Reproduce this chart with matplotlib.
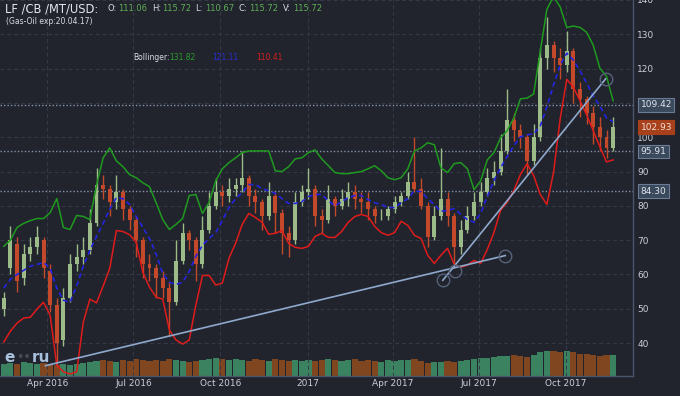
import numpy as np
import pandas as pd
import matplotlib
matplotlib.use("Agg")
import matplotlib.pyplot as plt
import matplotlib.dates as mdates
import matplotlib.transforms as mtransforms

# weekly candles, Gas-Oil LF/CB/MT/USD
weeks = pd.date_range("2016-02-15", periods=93, freq="7D")

opens = [50, 62, 69, 59, 66, 68, 70, 61, 51, 41, 53, 63, 65, 67, 75, 86, 85, 81, 84, 79,
         76, 70, 63, 62, 59, 56, 52, 64, 72, 70, 63, 73, 80, 84, 83, 85, 86, 88, 83, 81,
         77, 83, 78, 72, 70, 81, 84, 85, 77, 76, 82, 80, 82, 84, 82, 81, 79, 77, 77, 79,
         81, 83, 87, 85, 80, 71, 77, 82, 77, 68, 73, 77, 81, 84, 88, 90, 96, 105, 102, 100,
         93, 100, 123, 127, 123, 121, 125, 114, 111, 107, 103, 100, 97]
highs = [55, 74, 71, 69, 71, 74, 71, 63, 53, 56, 66, 69, 71, 79, 91, 89, 86, 89, 85, 80,
         77, 71, 66, 63, 61, 58, 70, 75, 73, 71, 77, 84, 88, 86, 88, 88, 96, 89, 85, 82,
         87, 84, 79, 74, 84, 86, 91, 86, 79, 86, 83, 85, 87, 86, 84, 84, 80, 79, 80, 83,
         84, 90, 100, 88, 81, 80, 97, 84, 78, 76, 80, 84, 87, 91, 93, 101, 114, 107, 104, 101,
         104, 126, 135, 128, 126, 131, 126, 116, 112, 109, 106, 102, 106]
lows = [48, 60, 55, 57, 64, 66, 59, 49, 33, 39, 52, 61, 63, 66, 74, 82, 77, 79, 76, 73,
        65, 59, 58, 53, 53, 42, 51, 63, 67, 58, 62, 72, 79, 80, 81, 83, 84, 80, 78, 73,
        76, 72, 66, 65, 69, 80, 82, 74, 72, 75, 77, 79, 80, 79, 78, 76, 75, 76, 76, 78,
        80, 82, 84, 79, 68, 70, 76, 74, 62, 66, 72, 76, 80, 83, 86, 89, 95, 99, 97, 89,
        92, 99, 120, 119, 117, 119, 110, 106, 104, 98, 96, 94, 96]
closes = [53, 70, 58, 66, 68, 71, 62, 51, 40, 53, 63, 65, 67, 75, 86, 85, 81, 84, 79, 76,
          70, 63, 62, 59, 56, 52, 64, 72, 70, 63, 73, 80, 84, 83, 85, 86, 88, 83, 81, 77,
          83, 78, 72, 70, 81, 84, 85, 77, 76, 82, 80, 82, 84, 82, 81, 79, 77, 77, 79, 81,
          83, 87, 85, 80, 71, 77, 82, 77, 68, 73, 77, 81, 84, 88, 90, 96, 105, 102, 100, 93,
          100, 123, 127, 123, 121, 125, 114, 111, 107, 103, 100, 97, 102.93]
volume = [12, 13, 12, 14, 13, 12, 13, 12, 11, 12, 11, 12, 13, 14, 15, 16, 15, 14, 16, 15,
          17, 16, 15, 16, 15, 17, 16, 15, 14, 15, 16, 17, 18, 17, 16, 17, 16, 15, 17, 16,
          15, 17, 16, 15, 16, 15, 16, 15, 16, 17, 16, 15, 16, 17, 15, 16, 15, 14, 16, 15,
          16, 16, 17, 15, 13, 14, 14, 15, 14, 15, 16, 17, 18, 18, 19, 20, 20, 21, 20, 19,
          21, 24, 25, 25, 24, 25, 24, 22, 22, 21, 20, 21, 21]

bb_upper = [68.2, 70, 73.7, 74.9, 75.7, 76.3, 76.3, 78, 82.1, 73.7, 73.1, 77.2, 76.9, 76, 86,
            94, 96.9, 93.1, 91.4, 89.1, 88.2, 86.7, 85.6, 80.9, 76, 73.1, 74.6, 76.3, 83, 83.3,
            77.8, 81, 87.3, 90.8, 92.6, 94, 95.5, 96, 96, 96, 96, 90.2, 90, 91.4, 93.7,
            94, 95.5, 96.3, 93.7, 91.7, 89.7, 89.4, 89.4, 89.7, 90, 90.8, 91.7, 90.2, 88.2, 87.6,
            88.2, 90.8, 96, 96.9, 98.4, 97.8, 91.1, 89.7, 92.3, 92.6, 90.8, 84.7, 87.3, 93.4, 95.5,
            99.8, 101.9, 105.6, 111.2, 111.4, 112.6, 125.1, 137.3, 141, 138, 132, 132.4, 132, 130.6,
            126.8, 120.1, 117.8, 110.6]
bb_mid = [56, 58.6, 60, 61.2, 62.4, 62.9, 63.5, 61.8, 56, 52.5, 51.9, 56.6, 62.4, 67, 71.1,
          74.9, 79, 82.4, 82.1, 80.4, 76.9, 73.7, 70.5, 65.9, 60.3, 57.7, 57.1, 57.7, 60.9, 65.3,
          68.5, 70.5, 72.2, 75.7, 79.5, 82.1, 83.8, 86.2, 86.2, 85, 84.4, 83.6, 82.1, 80.7, 80.7,
          81.2, 82.7, 83.3, 83.3, 81.5, 80, 81.2, 82.4, 83, 83, 81.8, 80.9, 80.4, 79.5, 79.5,
          80.9, 82.1, 84.4, 84.1, 82.1, 80.4, 78.4, 78.7, 79.2, 77.5, 76, 75.2, 77.8, 82.7, 87.3,
          91.1, 94.3, 97.5, 100.1, 100.7, 101, 103.3, 108.8, 115.2, 121, 124.5, 122.5, 119.3, 115.8,
          112, 109.1, 105.6, 104.5]
bb_lower = [40.3, 43.5, 45.8, 47.3, 47.5, 49.9, 51.9, 48.1, 33.6, 31.6, 31, 31.6, 46.1, 52.8, 51.7,
            56.6, 61.8, 72.8, 72.5, 71.6, 69.3, 60.6, 56.3, 53.4, 52.8, 43.8, 40.9, 39.7, 40.9, 51.1,
            59.7, 59.7, 56.9, 57.5, 64.7, 69.1, 74.6, 77.8, 76.6, 75.2, 71.7, 72, 72.8, 69.1, 67.9,
            67.6, 68.2, 71.1, 72, 70.8, 70.8, 72.5, 75.2, 76.9, 77.5, 76.9, 74, 72.2, 71.4, 72.2,
            75.5, 74.3, 71.4, 70.5, 65.6, 63.2, 65.6, 67.6, 63, 62.1, 62.7, 64.1, 63.2, 67.3, 72.2,
            78.7, 81, 84.4, 89.1, 92.3, 88.8, 83.3, 80.4, 89.7, 105.3, 116.9, 114.6, 110.6, 106.5,
            101.9, 97.2, 92.8, 93.4]

# drawn trend lines (date, price)
trend1 = (["2016-03-30", "2017-07-29"], [33.4, 65.5])
trend2 = (["2017-05-24", "2017-11-12"], [58.3, 117.0])
anchor_dates = ["2017-05-24", "2017-06-06", "2017-07-29", "2017-11-12"]
anchor_vals = [58.3, 61.0, 65.5, 117.0]

levels = [109.42, 95.91, 84.30]
last_price = 102.93

tick_dates = ["2016-04-01", "2016-07-01", "2016-10-01", "2017-01-01",
              "2017-04-01", "2017-07-01", "2017-10-01"]
tick_labels = ["Apr 2016", "Jul 2016", "Oct 2016", "2017", "Apr 2017", "Jul 2017", "Oct 2017"]

BG = "#21242d"
UP = "#9dbb88"
DOWN = "#c4482a"
TXT = "#c9ced8"

fig = plt.figure(figsize=(6.8, 3.96), dpi=100, facecolor=BG)
ax2 = fig.add_axes([0, 20 / 396, 633 / 680, 376 / 396])
ax2.set_facecolor(BG)
ax = fig.add_axes([0, 20 / 396, 633 / 680, 376 / 396], sharex=ax2)
ax.patch.set_visible(False)

x = mdates.date2num(weeks)
o = np.array(opens, float)
c = np.array(closes, float)
up = c >= o
cols = np.where(up, UP, DOWN)
vcols = np.where(up, "#3f8e66", "#8a4a1f")

# volume
ax2.bar(x, volume, width=6.5, color=vcols, alpha=0.9, linewidth=0)
ax2.set_ylim(0, 376)
ax2.axis("off")

# grid
for t in tick_dates:
    ax.axvline(mdates.datestr2num(t), color="#363a47", lw=0.7, ls=(0, (4, 3)), zorder=0)
for yv in range(40, 141, 10):
    ax.axhline(yv, color="#363a47", lw=0.7, ls=(0, (4, 3)), zorder=0)
for lv in levels:
    ax.axhline(lv, color="#8593a8", lw=1.0, ls=(0, (1, 1.5)), zorder=1)

# candles
ax.vlines(x, lows, highs, colors=cols, lw=1.0, zorder=2)
ax.bar(x, np.abs(c - o), bottom=np.minimum(o, c), width=4.2, color=cols, linewidth=0, zorder=3)

# bollinger
ax.plot(x, bb_upper, color="#1f9a1f", lw=1.1, zorder=4)
ax.plot(x, bb_lower, color="#e01b1b", lw=1.1, zorder=4)
ax.plot(x, bb_mid, color="#2424e0", lw=1.2, ls=(0, (3, 2)), zorder=4)

# trend lines
for dts, vals in (trend1, trend2):
    ax.plot(mdates.datestr2num(dts), vals, color="#8fa9cc", lw=1.2, zorder=5)
ax.plot(mdates.datestr2num(anchor_dates), anchor_vals, "o", ms=9, mfc="none",
        mec="#56627a", mew=1.0, zorder=6)

ax.set_xlim(mdates.datestr2num("2016-02-11"), mdates.datestr2num("2017-12-11"))
ax.set_ylim(30.4, 139.6)

ax.set_xticks(mdates.datestr2num(tick_dates))
ax.set_xticklabels(tick_labels)
ax.set_yticks(range(40, 141, 10))
ax.yaxis.tick_right()
ax.tick_params(axis="both", length=0, colors=TXT, labelsize=6.5)
ax.tick_params(axis="y", pad=3)
ax.tick_params(axis="x", pad=2)
for s in ["top", "left"]:
    ax.spines[s].set_visible(False)
for s in ["right", "bottom"]:
    ax.spines[s].set_color("#4b556b")
    ax.spines[s].set_linewidth(1.0)

# right-side price boxes
trans = mtransforms.blended_transform_factory(ax.transAxes, ax.transData)
for lv in levels:
    ax.text(1.012, lv, f"{lv:.2f}", transform=trans, ha="left", va="center", fontsize=6.5,
            color="#dfe5ee", zorder=10, clip_on=False,
            bbox=dict(boxstyle="square,pad=0.25", fc="#3b495c", ec="#6b7d96", lw=0.8))
ax.text(1.012, last_price, f"{last_price:.2f}", transform=trans, ha="left", va="center",
        fontsize=6.5, color="#f0e0d8", zorder=10, clip_on=False,
        bbox=dict(boxstyle="square,pad=0.25", fc="#a8401c", ec="#a8401c", lw=0.8))

# header texts
def ftxt(px, py, s, **kw):
    fig.text(px / 680, 1 - py / 396, s, va="center", **kw)

ftxt(5, 8.5, "LF /CB /MT/USD:", fontsize=8.3, color="#e4e7ee")
ohlc = [("O:", "111.06", 108), ("H:", "115.72", 152), ("L:", "110.67", 195),
        ("C:", "115.72", 239), ("V:", "115.72", 283)]
for lab, val, px in ohlc:
    ftxt(px, 8.3, lab, fontsize=6, color="#d8dce6")
    ftxt(px + 10, 8.3, val, fontsize=6, color="#5fae55")
ftxt(6, 21.7, "(Gas-Oil exp:20.04.17)", fontsize=5.5, color="#d8dce6")
ftxt(133, 57.7, "Bollinger:", fontsize=5.5, color="#d8dce6")
ftxt(169, 57.7, "131.82", fontsize=5.5, color="#2a9d2a")
ftxt(212, 57.7, "121.11", fontsize=5.5, color="#2a2ad8")
ftxt(256, 57.7, "110.41", fontsize=5.5, color="#d42020")

# watermark
ftxt(4, 357, "e", fontsize=11, color="#a8c0dc", fontweight="bold")
ftxt(16, 357, "\u2022\u2022", fontsize=9, color="#4a4d56")
ftxt(32, 357, "ru", fontsize=11, color="#a8c0dc", fontweight="bold")

fig.savefig("out.png", dpi=100, facecolor=BG)
